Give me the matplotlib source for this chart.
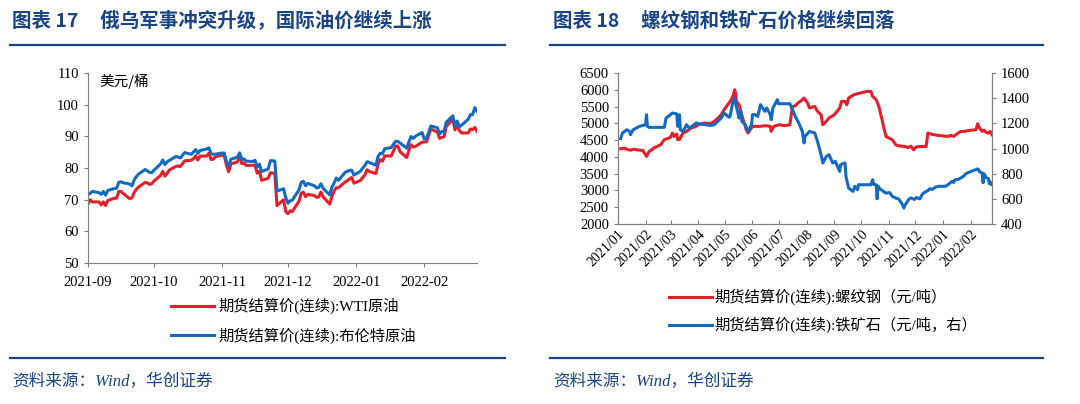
import matplotlib
matplotlib.use('Agg')
import matplotlib.pyplot as plt
import matplotlib.dates as mdates
from matplotlib.lines import Line2D
import pandas as pd

plt.rcParams['font.family'] = ['Liberation Serif', 'Noto Sans CJK SC']
plt.rcParams['axes.unicode_minus'] = False

# ---------- 图表17: 原油 (美元/桶) ----------
oil_days = {
    '2021-09': [1, 2, 3, 6, 7, 8, 9, 10, 13, 14, 15, 16, 17, 20, 21, 22, 23, 24, 27, 28, 29, 30],
    '2021-10': [1, 4, 5, 6, 7, 8, 11, 12, 13, 14, 15, 18, 19, 20, 21, 22, 25, 26, 27, 28, 29],
    '2021-11': [1, 2, 3, 4, 5, 8, 9, 10, 11, 12, 15, 16, 17, 18, 19, 22, 23, 24, 25, 26, 29, 30],
    '2021-12': [1, 2, 3, 6, 7, 8, 9, 10, 13, 14, 15, 16, 17, 20, 21, 22, 23, 24, 27, 28, 29, 30, 31],
    '2022-01': [3, 4, 5, 6, 7, 10, 11, 12, 13, 14, 17, 18, 19, 20, 21, 24, 25, 26, 27, 28, 31],
    '2022-02': [1, 2, 3, 4, 7, 8, 9, 10, 11, 14, 15, 16, 17, 18, 21, 22, 23, 24, 25],
}
oil_dates = pd.to_datetime([f'{m}-{d:02d}' for m, ds in oil_days.items() for d in ds])

wti = [68.59, 69.99, 69.29, 69.29, 68.35, 69.30, 68.14, 69.72, 70.45, 70.46, 72.61, 72.61, 71.97, 70.29, 70.56, 72.23, 73.30, 73.98, 75.45, 75.29, 74.83, 75.03,
       75.88, 77.62, 78.93, 77.43, 78.30, 79.35, 80.52, 80.64, 80.44, 81.31, 82.28, 82.44, 82.96, 83.87, 82.50, 83.76, 83.76, 84.65, 82.66, 82.81, 83.57,
       84.05, 83.91, 80.86, 78.81, 81.27, 81.93, 84.15, 81.34, 81.59, 80.79, 80.88, 80.76, 78.36, 79.01, 76.10, 76.75, 78.50, 78.39, 78.39, 68.15, 69.95, 66.18,
       65.57, 66.50, 66.26, 69.49, 72.05, 72.36, 70.94, 71.67, 71.29, 70.73, 70.87, 72.38, 70.86, 68.61, 71.12, 72.76, 73.79, 73.79, 75.57, 75.98, 76.56, 76.99, 75.21,
       76.08, 76.99, 77.85, 79.46, 78.90, 78.23, 81.22, 82.64, 82.12, 83.82, 83.82, 85.43, 86.96, 86.90, 85.14, 83.31, 85.60, 87.35, 86.61, 86.82, 88.15,
       88.20, 88.26, 90.27, 92.31, 91.32, 89.36, 89.66, 89.88, 93.10, 95.46, 92.07, 93.66, 91.76, 91.07, 91.07, 92.35, 92.10, 92.81, 91.59]

brent = [71.59, 72.03, 72.61, 72.22, 71.69, 72.60, 71.45, 72.92, 73.51, 73.60, 75.46, 75.67, 75.34, 74.92, 74.36, 76.19, 77.25, 78.09, 79.53, 79.09, 78.64, 78.52,
         79.28, 81.26, 82.56, 81.08, 81.95, 82.39, 83.65, 83.42, 83.18, 84.00, 84.86, 84.33, 85.08, 85.82, 84.61, 85.53, 85.99, 86.40, 84.58, 84.32, 84.38,
         84.71, 84.72, 81.99, 80.54, 82.74, 83.43, 84.78, 82.64, 82.87, 82.17, 82.05, 82.43, 80.28, 81.24, 78.89, 79.70, 82.31, 82.25, 82.22, 72.72, 73.44, 70.57,
         68.87, 69.67, 69.88, 73.08, 75.44, 75.82, 74.42, 75.15, 74.39, 73.70, 73.88, 75.02, 73.52, 71.52, 73.98, 75.29, 76.85, 76.14, 78.60, 78.94, 79.23, 79.32, 77.78,
         78.98, 80.00, 80.80, 81.99, 81.75, 80.87, 83.72, 84.67, 84.47, 86.06, 86.48, 87.51, 88.44, 88.38, 87.89, 86.27, 88.20, 89.96, 89.34, 90.03, 91.21,
         89.16, 89.47, 91.11, 93.27, 92.69, 90.78, 91.55, 91.41, 94.44, 96.48, 93.28, 94.81, 92.97, 93.54, 95.39, 96.84, 96.84, 99.08, 97.93]

# ---------- 图表18: 螺纹钢 (元/吨, 左) ----------
rebar_dates = pd.to_datetime([
    '2021-01-04', '2021-01-08', '2021-01-12', '2021-01-15', '2021-01-19', '2021-01-22', '2021-01-26', '2021-01-29',
    '2021-02-02', '2021-02-05', '2021-02-09', '2021-02-10', '2021-02-18', '2021-02-22', '2021-03-01', '2021-03-03',
    '2021-03-05', '2021-03-08', '2021-03-09', '2021-03-11', '2021-03-15', '2021-03-19', '2021-03-24', '2021-03-29',
    '2021-04-01', '2021-04-08', '2021-04-15', '2021-04-19', '2021-04-23', '2021-04-27', '2021-04-30', '2021-05-07',
    '2021-05-10', '2021-05-12', '2021-05-13', '2021-05-14', '2021-05-17', '2021-05-19', '2021-05-21', '2021-05-25',
    '2021-05-27', '2021-06-01', '2021-06-09', '2021-06-16', '2021-06-21', '2021-06-22', '2021-06-25', '2021-07-01',
    '2021-07-07', '2021-07-13', '2021-07-16', '2021-07-19', '2021-07-22', '2021-07-26', '2021-07-29', '2021-08-02',
    '2021-08-04', '2021-08-10', '2021-08-13', '2021-08-17', '2021-08-19', '2021-08-23', '2021-08-26', '2021-09-01',
    '2021-09-07', '2021-09-09', '2021-09-13', '2021-09-15', '2021-09-17', '2021-09-23', '2021-09-30', '2021-10-08',
    '2021-10-12', '2021-10-14', '2021-10-18', '2021-10-21', '2021-10-25', '2021-10-27', '2021-10-29', '2021-11-05',
    '2021-11-09', '2021-11-12', '2021-11-19', '2021-11-23', '2021-11-26', '2021-11-29', '2021-12-02', '2021-12-07',
    '2021-12-13', '2021-12-15', '2021-12-17', '2021-12-22', '2021-12-27', '2022-01-06', '2022-01-10', '2022-01-13',
    '2022-01-17', '2022-01-21', '2022-01-26', '2022-01-28', '2022-02-07', '2022-02-09', '2022-02-10', '2022-02-14',
    '2022-02-16', '2022-02-18', '2022-02-21', '2022-02-23', '2022-02-25'])
rebar = [4244, 4260, 4220, 4200, 4230, 4210, 4200, 4190,
         4015, 4164, 4230, 4264, 4363, 4512, 4581, 4712,
         4610, 4680, 4512, 4520, 4712, 4760, 4860, 4900,
         4959, 5010, 4990, 5058, 5150, 5257, 5400, 5654,
         5800, 6002, 5904, 5654, 5555, 5350, 5159, 4810,
         4712, 4909, 4909, 4930, 4909, 4760, 4909, 4959,
         4930, 4959, 5505, 5520, 5606, 5680, 5755, 5600,
         5457, 5505, 5357, 5257, 4959, 5060, 5159, 5257,
         5457, 5654, 5654, 5555, 5755, 5853, 5904, 5952,
         5952, 5800, 5700, 5500, 5050, 4810, 4610, 4510,
         4360, 4330, 4310, 4280, 4320, 4210, 4300, 4310,
         4310, 4710, 4690, 4660, 4640, 4610, 4640, 4610,
         4690, 4760, 4760, 4780, 4810, 4990, 4900, 4760,
         4800, 4740, 4710, 4760, 4660]

# ---------- 图表18: 铁矿石 (元/吨, 右) ----------
ore_dates = pd.to_datetime([
    '2021-01-04', '2021-01-06', '2021-01-11', '2021-01-14', '2021-01-15', '2021-01-18', '2021-01-25', '2021-02-01',
    '2021-02-02', '2021-02-03', '2021-02-05', '2021-02-22', '2021-02-24', '2021-03-01', '2021-03-03', '2021-03-08',
    '2021-03-09', '2021-03-11', '2021-03-12', '2021-03-15', '2021-03-19', '2021-03-22', '2021-03-25', '2021-03-30',
    '2021-04-02', '2021-04-09', '2021-04-15', '2021-04-19', '2021-04-23', '2021-04-27', '2021-04-30', '2021-05-06',
    '2021-05-07', '2021-05-10', '2021-05-12', '2021-05-13', '2021-05-17', '2021-05-18', '2021-05-19', '2021-05-20',
    '2021-05-24', '2021-05-27', '2021-05-31', '2021-06-01', '2021-06-04', '2021-06-07', '2021-06-10', '2021-06-15',
    '2021-06-17', '2021-06-21', '2021-06-22', '2021-06-24', '2021-06-25', '2021-06-29', '2021-06-30', '2021-07-13',
    '2021-07-16', '2021-07-20', '2021-07-23', '2021-07-27', '2021-07-29', '2021-07-30', '2021-08-04', '2021-08-10',
    '2021-08-13', '2021-08-17', '2021-08-19', '2021-08-23', '2021-08-26', '2021-08-30', '2021-09-02', '2021-09-07',
    '2021-09-08', '2021-09-13', '2021-09-14', '2021-09-17', '2021-09-22', '2021-09-24', '2021-09-27', '2021-09-28',
    '2021-10-08', '2021-10-12', '2021-10-14', '2021-10-15', '2021-10-18', '2021-10-19', '2021-10-20', '2021-10-22',
    '2021-10-26', '2021-10-29', '2021-11-02', '2021-11-05', '2021-11-09', '2021-11-12', '2021-11-16', '2021-11-18',
    '2021-11-19', '2021-11-22', '2021-11-24', '2021-11-26', '2021-11-30', '2021-12-02', '2021-12-06', '2021-12-09',
    '2021-12-13', '2021-12-15', '2021-12-17', '2021-12-20', '2021-12-22', '2021-12-24', '2021-12-28', '2021-12-31',
    '2022-01-04', '2022-01-07', '2022-01-11', '2022-01-13', '2022-01-14', '2022-01-18', '2022-01-21', '2022-01-24',
    '2022-01-26', '2022-01-28', '2022-02-07', '2022-02-09', '2022-02-10', '2022-02-11', '2022-02-14', '2022-02-15',
    '2022-02-16', '2022-02-17', '2022-02-18', '2022-02-21', '2022-02-22', '2022-02-23', '2022-02-24', '2022-02-25'])
ore = [1078, 1123, 1149, 1136, 1110, 1149, 1176, 1189,
       1269, 1176, 1168, 1168, 1242, 1269, 1282, 1275,
       1176, 1269, 1149, 1136, 1189, 1163, 1176, 1203,
       1196, 1189, 1183, 1189, 1216, 1242, 1282, 1248,
       1260, 1374, 1401, 1362, 1242, 1282, 1295, 1216,
       1189, 1136, 1189, 1269, 1269, 1255, 1348, 1295,
       1322, 1269, 1229, 1322, 1335, 1388, 1356, 1356,
       1308, 1242, 1203, 1136, 1044, 1096, 1136, 1123,
       1057, 951, 885, 937, 951, 885, 898, 818,
       872, 885, 778, 686, 659, 699, 672, 712,
       712, 712, 752, 715, 712, 600, 700, 680,
       660, 645, 650, 620, 605, 600, 560, 527,
       545, 580, 600, 607, 595, 610, 600, 640,
       659, 665, 680, 675, 686, 695, 700, 699,
       700, 715, 739, 730, 750, 755, 766, 780,
       795, 805, 832, 838, 830, 815, 805, 728,
       800, 790, 770, 760, 720, 735, 715, 712]

red = '#e3202a'
blue = '#1469c2'
navy = '#1b4485'
spine = '#808080'

fig = plt.figure(figsize=(10.8, 4.04), dpi=100)

# titles, rules and sources
fig.text(12 / 1080, 1 - 21 / 404, '图表 17     俄乌军事冲突升级，国际油价继续上涨', fontsize=14,
         fontweight='bold', color=navy, va='center', family=['Noto Sans CJK SC'])
fig.text(553 / 1080, 1 - 21 / 404, '图表 18     螺纹钢和铁矿石价格继续回落', fontsize=14,
         fontweight='bold', color=navy, va='center', family=['Noto Sans CJK SC'])
for x0, x1 in [(10, 505), (550, 1043)]:
    for yy in (45, 358):
        fig.add_artist(Line2D([x0 / 1080, x1 / 1080], [1 - yy / 404, 1 - yy / 404],
                              color=navy, lw=1.6, transform=fig.transFigure))
for xs in (12, 553):
    fig.text(xs / 1080, 1 - 381 / 404, '资料来源：Wind，华创证券', fontsize=12, color=navy,
             style='italic', va='center', family=['Liberation Serif', 'Noto Sans CJK SC'])

# ---- left chart ----
ax1 = fig.add_axes([88 / 1080, 1 - 263 / 404, (477 - 88) / 1080, (263 - 73) / 404])
ax1.plot(oil_dates, wti, color=red, lw=2.2, label='期货结算价(连续):WTI原油')
ax1.plot(oil_dates, brent, color=blue, lw=2.2, label='期货结算价(连续):布伦特原油')
ax1.set_ylim(50, 110)
ax1.set_yticks(range(50, 111, 10))
ax1.set_xlim(pd.Timestamp('2021-09-01'), pd.Timestamp('2022-02-25'))
ax1.xaxis.set_major_locator(mdates.MonthLocator())
ax1.xaxis.set_major_formatter(mdates.DateFormatter('%Y-%m'))
for s in ('top', 'right'):
    ax1.spines[s].set_visible(False)
for s in ('left', 'bottom'):
    ax1.spines[s].set_color(spine)
ax1.tick_params(axis='both', labelsize=10.5, color=spine, length=3, direction='out')
ax1.tick_params(axis='x', pad=6)
ax1.text(0.03, 0.955, '美元/桶', transform=ax1.transAxes, fontsize=10.5, va='center',
         family=['Noto Sans CJK SC'])
ax1.legend(loc='upper left', bbox_to_anchor=(171 / 1080, 1 - 298 / 404), bbox_transform=fig.transFigure,
           frameon=False, fontsize=11, handlelength=2.8, handletextpad=0.3, labelspacing=0.85,
           borderpad=0, borderaxespad=0)

# ---- right chart ----
ax2 = fig.add_axes([618 / 1080, 1 - 224 / 404, (992 - 618) / 1080, (224 - 73) / 404])
ax3 = ax2.twinx()
l1, = ax2.plot(rebar_dates, rebar, color=red, lw=2.2, label='期货结算价(连续):螺纹钢（元/吨）')
l2, = ax3.plot(ore_dates, ore, color=blue, lw=2.2, label='期货结算价(连续):铁矿石（元/吨，右）')
ax2.set_ylim(2000, 6500)
ax2.set_yticks(range(2000, 6501, 500))
ax3.set_ylim(400, 1600)
ax3.set_yticks(range(400, 1601, 200))
ax2.set_xlim(pd.Timestamp('2021-01-01'), pd.Timestamp('2022-02-25'))
ax2.xaxis.set_major_locator(mdates.MonthLocator())
ax2.xaxis.set_major_formatter(mdates.DateFormatter('%Y/%m'))
for a in (ax2, ax3):
    a.spines['top'].set_visible(False)
    for s in ('left', 'right', 'bottom'):
        a.spines[s].set_color(spine)
    a.tick_params(axis='both', labelsize=10.5, color=spine, length=3)
ax2.tick_params(axis='y', direction='out')
ax3.tick_params(axis='y', direction='out')
ax2.tick_params(axis='x', direction='in', pad=3, labelsize=10)
for lab in ax2.get_xticklabels():
    lab.set_rotation(45)
    lab.set_ha('right')
    lab.set_rotation_mode('anchor')
ax2.legend([l1, l2], [l1.get_label(), l2.get_label()], loc='upper left',
           bbox_to_anchor=(669 / 1080, 1 - 289 / 404), bbox_transform=fig.transFigure,
           frameon=False, fontsize=11, handlelength=2.8, handletextpad=0.2, labelspacing=0.75,
           borderpad=0, borderaxespad=0)

fig.savefig('out.png', dpi=100)
